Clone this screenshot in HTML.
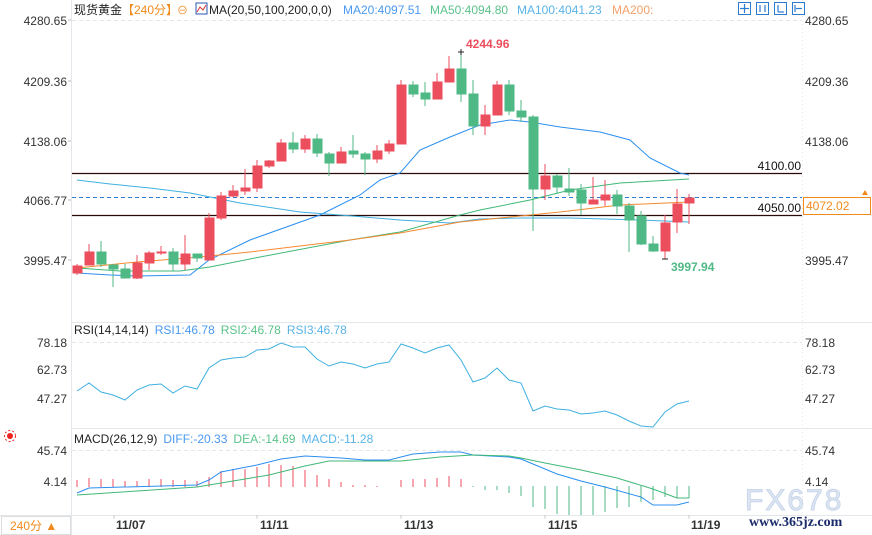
<!DOCTYPE html>
<html><head><meta charset="utf-8"><style>
body{margin:0;background:#fff;}
svg{display:block;font-family:"Liberation Sans","Noto Sans CJK SC",sans-serif;}
</style></head><body>
<svg width="872" height="535" viewBox="0 0 872 535" xmlns="http://www.w3.org/2000/svg">
<rect width="872" height="535" fill="#fff"/>
<!-- frame lines -->
<line x1="71.5" y1="0" x2="71.5" y2="535" stroke="#e3e6ea"/>
<line x1="802.5" y1="0" x2="802.5" y2="515" stroke="#e8e8e8" stroke-dasharray="1,3"/>
<line x1="72" y1="322.5" x2="872" y2="322.5" stroke="#e3e6ea"/>
<line x1="72" y1="428.5" x2="872" y2="428.5" stroke="#e3e6ea"/>
<line x1="72" y1="515.5" x2="872" y2="515.5" stroke="#e3e6ea"/>
<line x1="0" y1="515.5" x2="72" y2="515.5" stroke="#e3e6ea"/>
<!-- grid dashes -->
<g stroke="#e6e6e6" stroke-dasharray="4,3">
<line x1="72" y1="20.5" x2="802" y2="20.5"/>
<line x1="72" y1="342.5" x2="802" y2="342.5"/>
<line x1="72" y1="450.5" x2="802" y2="450.5"/>
</g>
<!-- header -->
<text x="74" y="14" font-size="12" fill="#222">现货黄金</text>
<text x="122" y="14" font-size="12" fill="#f08a1c">【240分】</text>
<text x="177" y="14" font-size="11" fill="#f08a1c">⊖</text>
<rect x="196" y="3" width="11" height="11" fill="#fff" stroke="#2a55b0"/>
<polyline points="197,12 200,7 203,10 206,5" fill="none" stroke="#d33" stroke-width="1"/>
<text x="209" y="14" font-size="12" fill="#222">MA(20,50,100,200,0,0)</text>
<text x="343" y="14" font-size="12" fill="#4a9af0">MA20:4097.51</text>
<text x="430" y="14" font-size="12" fill="#5bc38a">MA50:4094.80</text>
<text x="517" y="14" font-size="12" fill="#5ab4e8">MA100:4041.23</text>
<text x="612" y="14" font-size="12" fill="#f3a06a">MA200:</text>
<g fill="#fff" stroke="#2b7bd0">
<rect x="738.5" y="2.5" width="12" height="12"/><rect x="756.5" y="2.5" width="12" height="12"/><rect x="774.5" y="2.5" width="12" height="12"/><rect x="792.5" y="2.5" width="12" height="12"/>
</g>
<g stroke="#2b7bd0" stroke-width="1.2"><line x1="744.5" y1="4" x2="744.5" y2="13"/><line x1="740" y1="8.5" x2="749" y2="8.5"/><line x1="760" y1="5" x2="760" y2="12"/><line x1="765" y1="5" x2="765" y2="12"/><line x1="778" y1="5" x2="778" y2="12"/><line x1="778" y1="12" x2="784" y2="12"/><line x1="795" y1="5" x2="795" y2="12"/><line x1="796" y1="8.5" x2="802" y2="8.5"/></g>
<!-- axis labels -->
<g font-size="12" fill="#333" text-anchor="end">
<text x="67" y="25">4280.65</text><text x="67" y="86">4209.36</text><text x="67" y="146">4138.06</text><text x="67" y="205">4066.77</text><text x="67" y="265">3995.47</text>
<text x="67" y="347">78.18</text><text x="67" y="374">62.73</text><text x="67" y="403">47.27</text>
<text x="67" y="455">45.74</text><text x="67" y="486">4.14</text>
</g>
<g font-size="12" fill="#333">
<text x="805" y="25">4280.65</text><text x="805" y="86">4209.36</text><text x="805" y="146">4138.06</text><text x="805" y="265">3995.47</text>
<text x="805" y="347">78.18</text><text x="805" y="374">62.73</text><text x="805" y="403">47.27</text>
<text x="805" y="455">45.74</text><text x="805" y="486">4.14</text>
</g>
<!-- left ticks -->
<g stroke="#bbb"><line x1="68" y1="20" x2="71" y2="20"/><line x1="68" y1="81" x2="71" y2="81"/><line x1="68" y1="141" x2="71" y2="141"/><line x1="68" y1="200" x2="71" y2="200"/><line x1="68" y1="260" x2="71" y2="260"/></g>
<!-- horizontal levels -->
<line x1="72" y1="173.5" x2="802" y2="173.5" stroke="#2b0a0a" stroke-width="1.3"/>
<line x1="72" y1="215.5" x2="802" y2="215.5" stroke="#2b0a0a" stroke-width="1.3"/>
<line x1="72" y1="197.5" x2="802" y2="197.5" stroke="#2b7bd0" stroke-dasharray="4,3"/>
<text x="801" y="170" font-size="12" fill="#111" text-anchor="end">4100.00</text>
<text x="801" y="212" font-size="12" fill="#111" text-anchor="end">4050.00</text>
<rect x="803.5" y="197.5" width="67" height="17" fill="#fff" stroke="#f08a1c"/>
<text x="806" y="210" font-size="12" fill="#f08a1c">4072.02</text>
<path d="M862,195 L865,190 L868,195 Z" fill="#f08a1c"/>
<!-- MA lines -->
<polyline fill="none" stroke="#2b8ff0" stroke-width="1" points="77,273 110,275 137,276 190,275 209,260 250,240 320,215 360,195 380,180 400,173 420,150 450,137 480,125 510,120 530,122 560,127 600,132 630,140 650,158 680,173 689,175"/>
<polyline fill="none" stroke="#3fb0e0" stroke-width="1" points="77,180 110,184 150,188 190,193 240,203 300,212 340,215 400,220 450,223 480,219 520,218 570,218 640,220 689,222"/>
<polyline fill="none" stroke="#40b878" stroke-width="1" points="77,268 120,271 180,271 210,267 260,257 350,240 400,232 460,215 480,210 530,200 570,190 620,183 689,179"/>
<polyline fill="none" stroke="#f58a30" stroke-width="1" points="77,268 137,262 200,257 250,252 350,240 400,233 460,222 500,218 560,212 620,205 689,202"/>
<!-- candles -->
<g stroke-width="1">
<g id="c"></g>
</g>
<g fill="#eb4e5c" stroke="#eb4e5c">
<line x1="77" y1="264" x2="77" y2="275"/><rect x="73" y="266" width="9" height="7"/>
<line x1="89" y1="244" x2="89" y2="265"/><rect x="85" y="252" width="9" height="13"/>
<line x1="137" y1="255" x2="137" y2="279"/><rect x="133" y="263" width="9" height="15"/>
<line x1="149" y1="251" x2="149" y2="270"/><rect x="145" y="253" width="9" height="10"/>
<line x1="161" y1="246" x2="161" y2="255"/><rect x="157" y="252" width="9" height="1"/>
<line x1="185" y1="235" x2="185" y2="270"/><rect x="181" y="254" width="9" height="10"/>
<line x1="209" y1="213" x2="209" y2="260"/><rect x="205" y="218" width="9" height="42"/>
<line x1="221" y1="192" x2="221" y2="220"/><rect x="217" y="196" width="9" height="22"/>
<line x1="233" y1="185" x2="233" y2="197"/><rect x="229" y="191" width="9" height="5"/>
<line x1="245" y1="169" x2="245" y2="195"/><rect x="241" y="188" width="9" height="3"/>
<line x1="257" y1="160" x2="257" y2="192"/><rect x="253" y="166" width="9" height="22"/>
<line x1="269" y1="160" x2="269" y2="168"/><rect x="265" y="161" width="9" height="5"/>
<line x1="281" y1="139" x2="281" y2="161"/><rect x="277" y="143" width="9" height="18"/>
<line x1="305" y1="135" x2="305" y2="153"/><rect x="301" y="139" width="9" height="10"/>
<line x1="341" y1="147" x2="341" y2="163"/><rect x="337" y="152" width="9" height="11"/>
<line x1="377" y1="145" x2="377" y2="163"/><rect x="373" y="151" width="9" height="8"/>
<line x1="389" y1="140" x2="389" y2="154"/><rect x="385" y="144" width="9" height="7"/>
<line x1="401" y1="80" x2="401" y2="144"/><rect x="397" y="85" width="9" height="59"/>
<line x1="437" y1="73" x2="437" y2="99"/><rect x="433" y="82" width="9" height="17"/>
<line x1="449" y1="56" x2="449" y2="82"/><rect x="445" y="69" width="9" height="13"/>
<line x1="485" y1="105" x2="485" y2="135"/><rect x="481" y="115" width="9" height="11"/>
<line x1="497" y1="81" x2="497" y2="115"/><rect x="493" y="85" width="9" height="30"/>
<line x1="545" y1="164" x2="545" y2="200"/><rect x="541" y="176" width="9" height="13"/>
<line x1="593" y1="177" x2="593" y2="204"/><rect x="589" y="200" width="9" height="4"/>
<line x1="605" y1="180" x2="605" y2="206"/><rect x="601" y="195" width="9" height="5"/>
<line x1="665" y1="215" x2="665" y2="259"/><rect x="661" y="223" width="9" height="28"/>
<line x1="677" y1="189" x2="677" y2="233"/><rect x="673" y="204" width="9" height="18"/>
<line x1="689" y1="194" x2="689" y2="224"/><rect x="685" y="198" width="9" height="5"/>
</g>
<g fill="#4fb985" stroke="#4fb985">
<line x1="101" y1="241" x2="101" y2="267"/><rect x="97" y="252" width="9" height="12"/>
<line x1="113" y1="264" x2="113" y2="287"/><rect x="109" y="265" width="9" height="4"/>
<line x1="125" y1="264" x2="125" y2="278"/><rect x="121" y="269" width="9" height="9"/>
<line x1="173" y1="248" x2="173" y2="271"/><rect x="169" y="252" width="9" height="12"/>
<line x1="197" y1="254" x2="197" y2="262"/><rect x="193" y="254" width="9" height="4"/>
<line x1="293" y1="132" x2="293" y2="153"/><rect x="289" y="143" width="9" height="6"/>
<line x1="317" y1="134" x2="317" y2="157"/><rect x="313" y="139" width="9" height="14"/>
<line x1="329" y1="152" x2="329" y2="176"/><rect x="325" y="154" width="9" height="9"/>
<line x1="353" y1="135" x2="353" y2="158"/><rect x="349" y="151" width="9" height="3"/>
<line x1="365" y1="152" x2="365" y2="175"/><rect x="361" y="154" width="9" height="5"/>
<line x1="413" y1="81" x2="413" y2="97"/><rect x="409" y="85" width="9" height="9"/>
<line x1="425" y1="82" x2="425" y2="106"/><rect x="421" y="93" width="9" height="6"/>
<line x1="461" y1="52" x2="461" y2="102"/><rect x="457" y="69" width="9" height="25"/>
<line x1="473" y1="80" x2="473" y2="135"/><rect x="469" y="94" width="9" height="32"/>
<line x1="509" y1="80" x2="509" y2="115"/><rect x="505" y="85" width="9" height="26"/>
<line x1="521" y1="100" x2="521" y2="122"/><rect x="517" y="111" width="9" height="6"/>
<line x1="533" y1="115" x2="533" y2="231"/><rect x="529" y="117" width="9" height="72"/>
<line x1="557" y1="174" x2="557" y2="194"/><rect x="553" y="176" width="9" height="11"/>
<line x1="569" y1="168" x2="569" y2="196"/><rect x="565" y="189" width="9" height="3"/>
<line x1="581" y1="184" x2="581" y2="215"/><rect x="577" y="190" width="9" height="13"/>
<line x1="617" y1="190" x2="617" y2="214"/><rect x="613" y="195" width="9" height="11"/>
<line x1="629" y1="203" x2="629" y2="252"/><rect x="625" y="206" width="9" height="14"/>
<line x1="641" y1="211" x2="641" y2="245"/><rect x="637" y="216" width="9" height="28"/>
<line x1="653" y1="236" x2="653" y2="252"/><rect x="649" y="244" width="9" height="7"/>
</g>
<!-- high/low markers -->
<g stroke="#222"><line x1="458" y1="52" x2="464" y2="52"/><line x1="461" y1="49" x2="461" y2="55"/><line x1="662" y1="259" x2="668" y2="259"/></g>
<text x="466" y="48" font-size="12" font-weight="bold" fill="#eb4e5c">4244.96</text>
<text x="671" y="271" font-size="12" font-weight="bold" fill="#4fb985">3997.94</text>
<!-- RSI -->
<text x="74" y="334" font-size="12"><tspan fill="#222">RSI(14,14,14)</tspan><tspan fill="#4a9af0" dx="6">RSI1:46.78</tspan><tspan fill="#5bc38a" dx="6">RSI2:46.78</tspan><tspan fill="#5ab4e8" dx="6">RSI3:46.78</tspan></text>
<polyline fill="none" stroke="#3fb0e0" points="77,391 89,383 101,392 113,395 125,400 137,390 149,385 161,384 173,393 185,386 197,389 209,368 221,360 233,358 245,357 257,350 269,349 281,343 293,347 305,347 317,359 329,366 341,362 353,364 365,368 377,364 389,362 401,344 413,348 425,353 437,348 449,345 461,360 473,382 485,378 497,368 509,380 521,383 533,411 545,406 557,409 569,410 581,414 593,413 605,411 617,415 629,421 641,426 653,427 665,412 677,404 689,401"/>
<!-- MACD -->
<circle cx="10" cy="436" r="3" fill="#e22"/><circle cx="10" cy="436" r="5.5" fill="none" stroke="#e22" stroke-dasharray="2,2"/>
<text x="74" y="443" font-size="12"><tspan fill="#222">MACD(26,12,9)</tspan><tspan fill="#4a9af0" dx="6">DIFF:-20.33</tspan><tspan fill="#5bc38a" dx="6">DEA:-14.69</tspan><tspan fill="#5ab4e8" dx="6">MACD:-11.28</tspan></text>
<g stroke="#eb4e5c">
<line x1="77" y1="480" x2="77" y2="487"/><line x1="89" y1="478" x2="89" y2="487"/><line x1="101" y1="479" x2="101" y2="487"/><line x1="113" y1="479" x2="113" y2="487"/><line x1="125" y1="481" x2="125" y2="487"/><line x1="137" y1="481" x2="137" y2="487"/><line x1="149" y1="479" x2="149" y2="487"/><line x1="161" y1="479" x2="161" y2="487"/><line x1="173" y1="480" x2="173" y2="487"/><line x1="185" y1="480" x2="185" y2="487"/><line x1="197" y1="481" x2="197" y2="487"/><line x1="209" y1="477" x2="209" y2="487"/><line x1="221" y1="471" x2="221" y2="487"/><line x1="233" y1="469" x2="233" y2="487"/><line x1="245" y1="469" x2="245" y2="487"/><line x1="257" y1="467" x2="257" y2="487"/><line x1="269" y1="464" x2="269" y2="487"/><line x1="281" y1="465" x2="281" y2="487"/><line x1="293" y1="466" x2="293" y2="487"/><line x1="305" y1="470" x2="305" y2="487"/><line x1="317" y1="475" x2="317" y2="487"/><line x1="329" y1="479" x2="329" y2="487"/><line x1="341" y1="482" x2="341" y2="487"/><line x1="353" y1="485" x2="353" y2="487"/><line x1="365" y1="485" x2="365" y2="487"/><line x1="377" y1="486" x2="377" y2="487"/><line x1="401" y1="480" x2="401" y2="487"/><line x1="413" y1="479" x2="413" y2="487"/><line x1="425" y1="479" x2="425" y2="487"/><line x1="437" y1="478" x2="437" y2="487"/><line x1="449" y1="476" x2="449" y2="487"/><line x1="461" y1="479" x2="461" y2="487"/>
</g>
<g stroke="#4fb985">
<line x1="473" y1="486" x2="473" y2="487"/><line x1="485" y1="486" x2="485" y2="490"/><line x1="497" y1="486" x2="497" y2="490"/><line x1="509" y1="486" x2="509" y2="493"/><line x1="521" y1="486" x2="521" y2="496"/><line x1="533" y1="486" x2="533" y2="507"/><line x1="545" y1="486" x2="545" y2="509"/><line x1="557" y1="486" x2="557" y2="514"/><line x1="569" y1="486" x2="569" y2="515"/><line x1="581" y1="486" x2="581" y2="515"/><line x1="593" y1="486" x2="593" y2="515"/><line x1="605" y1="486" x2="605" y2="512"/><line x1="617" y1="486" x2="617" y2="508"/><line x1="629" y1="486" x2="629" y2="507"/><line x1="641" y1="486" x2="641" y2="502"/><line x1="653" y1="486" x2="653" y2="500"/><line x1="665" y1="486" x2="665" y2="497"/><line x1="677" y1="486" x2="677" y2="498"/><line x1="689" y1="486" x2="689" y2="498"/>
</g>
<polyline fill="none" stroke="#2b8ff0" points="77,493 89,488 197,485 209,480 221,472 257,465 281,459 305,456 341,458 365,460 389,460 401,457 413,454 440,452 461,452 473,455 509,457 521,459 533,464 557,474 581,481 605,487 641,497 653,505 665,505 677,505 689,502"/>
<polyline fill="none" stroke="#40b878" points="77,495 137,491 197,487 233,481 269,475 305,466 329,461 365,461 401,461 440,457 473,455 509,456 521,458 545,463 581,470 617,478 653,489 677,498 689,498"/>
<!-- time axis -->
<g stroke="#ccc"><line x1="114" y1="515" x2="114" y2="519"/><line x1="257" y1="515" x2="257" y2="519"/><line x1="401" y1="515" x2="401" y2="519"/><line x1="545" y1="515" x2="545" y2="519"/><line x1="689" y1="515" x2="689" y2="519"/></g>
<g font-size="12" font-weight="bold" fill="#333">
<text x="116" y="529">11/07</text><text x="260" y="529">11/11</text><text x="404" y="529">11/13</text><text x="548" y="529">11/15</text><text x="691" y="529">11/19</text>
</g>
<rect x="1.5" y="516.5" width="69" height="18" fill="#fff" stroke="#ddd"/>
<text x="10" y="530" font-size="12" fill="#f08a1c">240分 ▲</text>
<!-- watermark -->
<text x="745" y="510" font-size="30" fill="#dde6f2" stroke="#c9d6ea" letter-spacing="2">FX678</text>
<text x="749" y="526" font-size="14" font-weight="bold" font-family="Liberation Serif,serif" fill="#1a2a6a">www.365jz.com</text>
</svg>
</body></html>
